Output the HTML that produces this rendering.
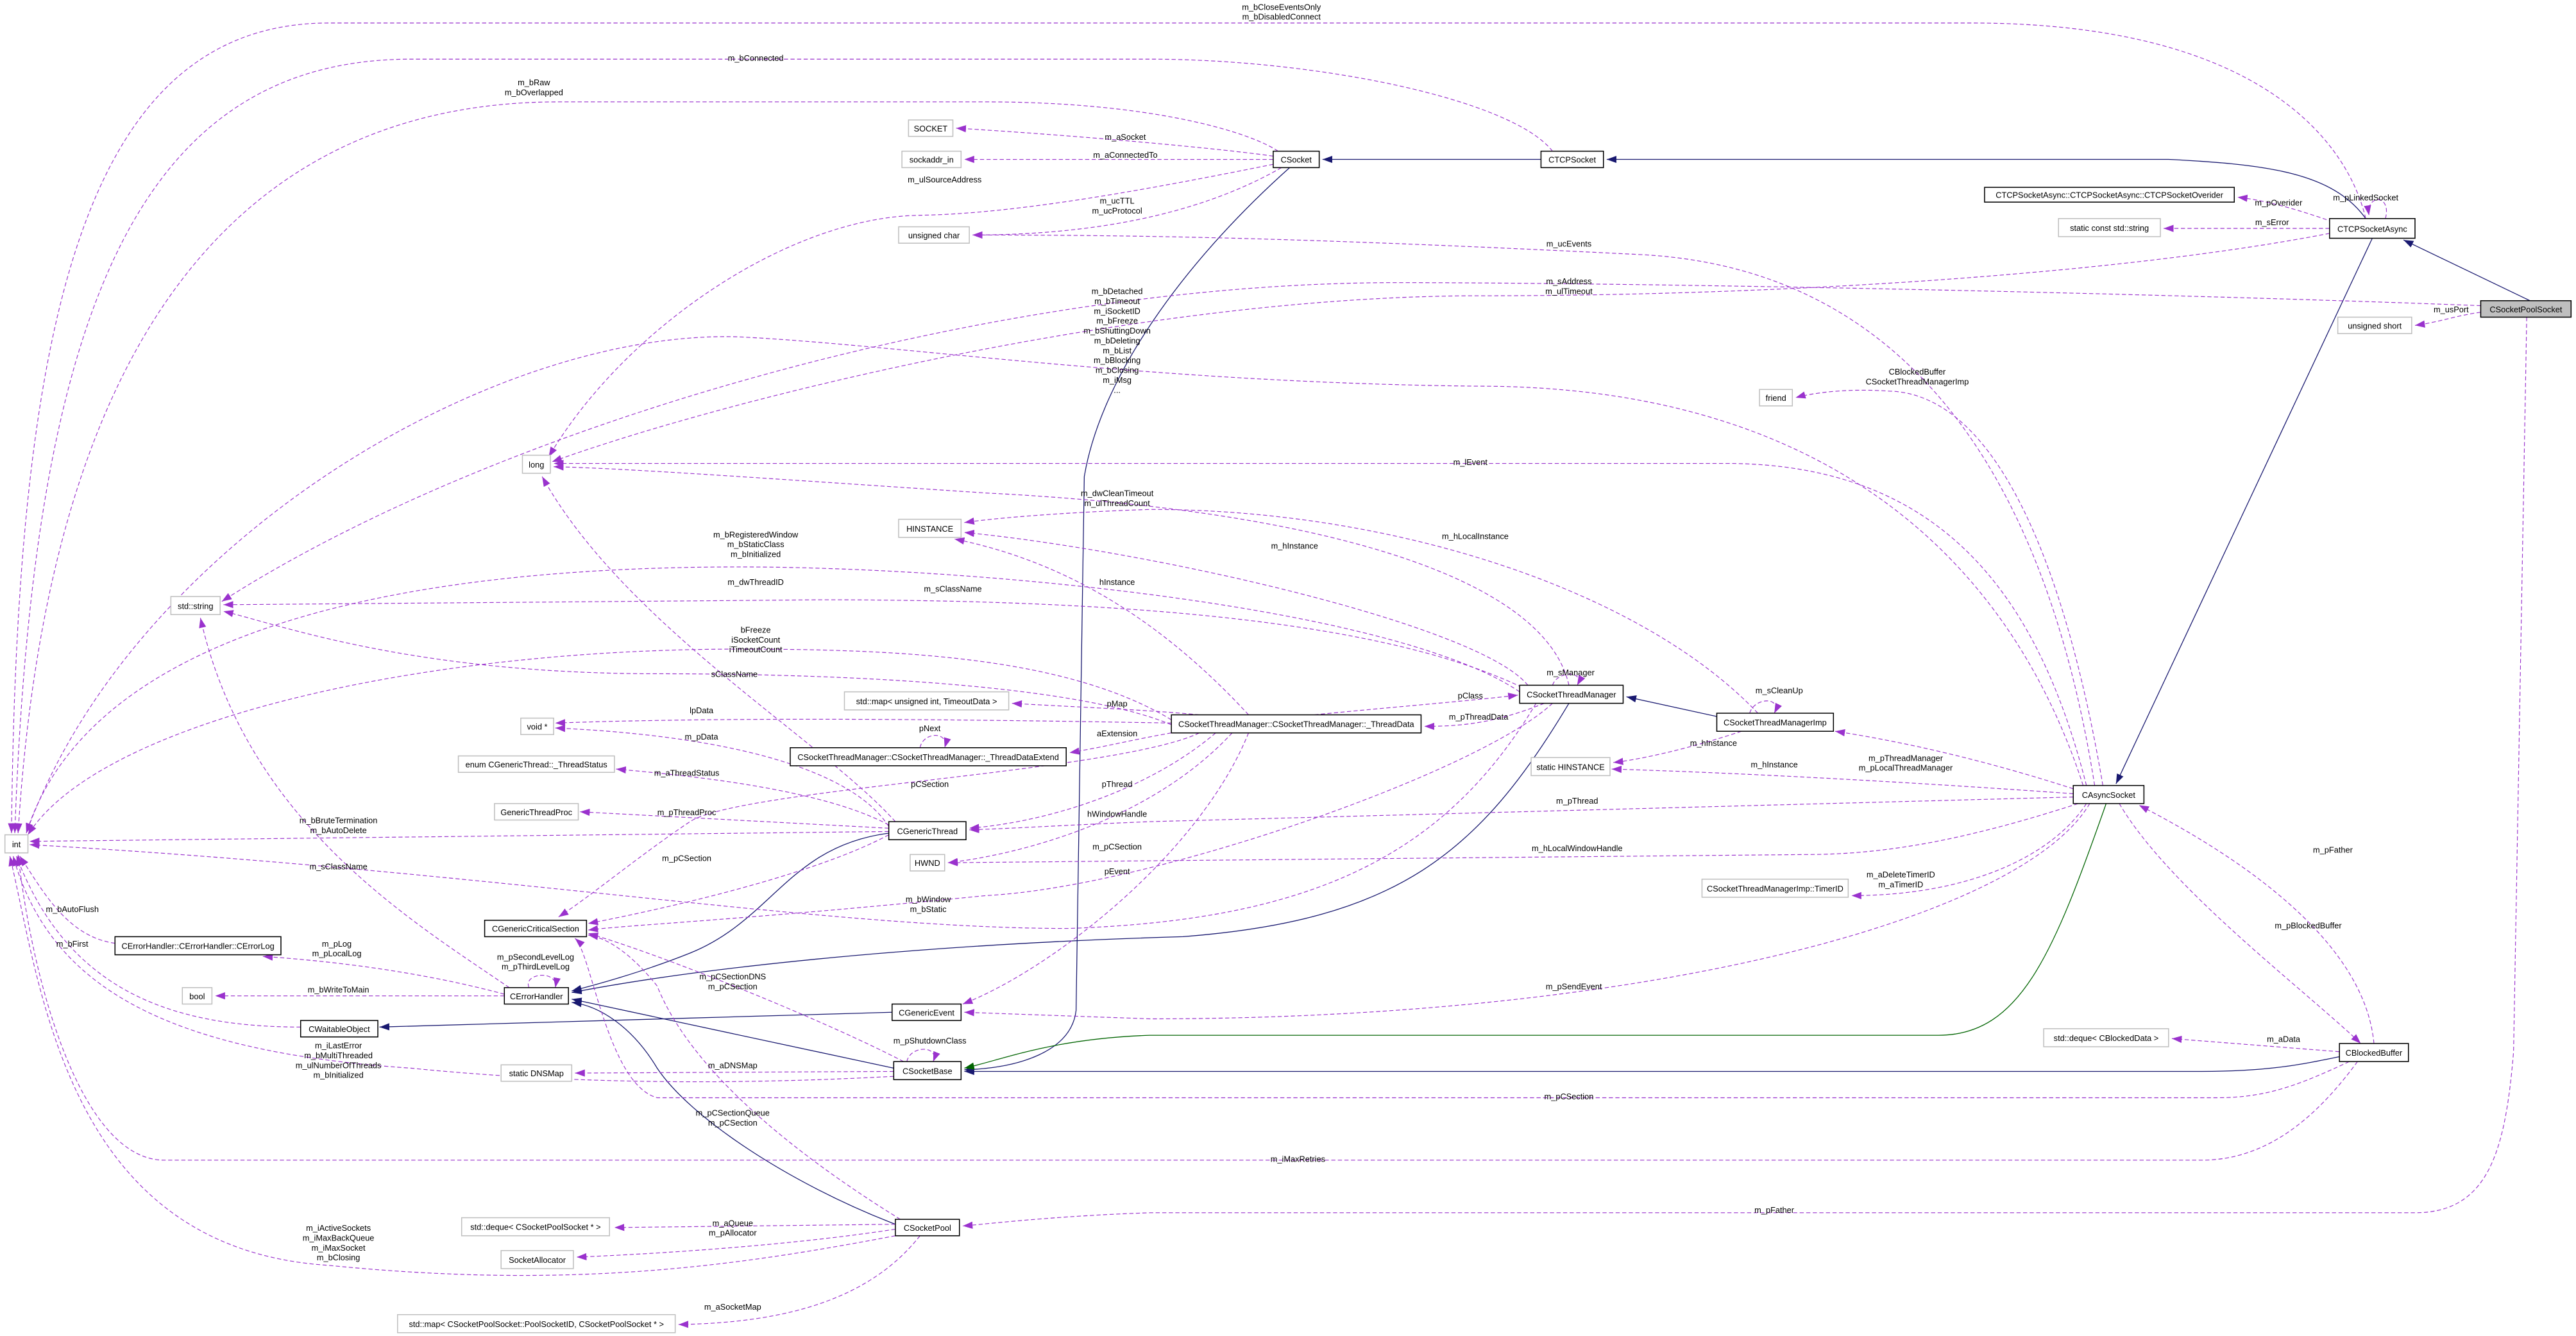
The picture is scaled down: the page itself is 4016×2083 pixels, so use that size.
<!DOCTYPE html>
<html><head><meta charset="utf-8"><style>
html,body{margin:0;padding:0;background:#fff;width:4016px;height:2083px;overflow:hidden}
svg{display:block}
text{font-family:"Liberation Sans",sans-serif;font-size:5px;fill:#000;text-anchor:middle}
.n rect{fill:#fff;stroke:#000;stroke-width:0.6}
.g rect{fill:#fff;stroke:#bfbfbf;stroke-width:0.6}
.p{fill:none;stroke:#9a32cd;stroke-width:0.45;stroke-dasharray:2.5,1.5}
.b{fill:none;stroke:#191970;stroke-width:0.5}
.e{fill:none;stroke:#006400;stroke-width:0.5}
</style></head><body>
<svg width="4016" height="2083" viewBox="0 0 1568 813" preserveAspectRatio="none" xmlns="http://www.w3.org/2000/svg">
<defs>
<marker id="ap" markerUnits="userSpaceOnUse" markerWidth="6" markerHeight="5" refX="6" refY="2.2" orient="auto"><path d="M0,0 L6,2.2 L0,4.4z" fill="#9a32cd"/></marker>
<marker id="ab" markerUnits="userSpaceOnUse" markerWidth="6" markerHeight="5" refX="6" refY="2.2" orient="auto"><path d="M0,0 L6,2.2 L0,4.4z" fill="#191970"/></marker>
<marker id="ae" markerUnits="userSpaceOnUse" markerWidth="6" markerHeight="5" refX="6" refY="2.2" orient="auto"><path d="M0,0 L6,2.2 L0,4.4z" fill="#006400"/></marker>
</defs>

<g marker-end="url(#ab)">
<path class="b" d="M938,97 L805,97"/>
<path class="b" d="M1440,133 C1420,105 1380,100 1320,97 L978,97"/>
<path class="b" d="M1540,183 L1463,146"/>
<path class="b" d="M1444,145 L1288,477"/>
<path class="b" d="M785,102 C720,160 670,230 660,290 L655,615 C652,640 620,650 587,651"/>
<path class="b" d="M1045,436 L990,424"/>
<path class="b" d="M955,428 C900,520 850,560 720,570 C550,575 420,590 348,604"/>
<path class="b" d="M541,507 C480,515 470,560 420,580 C390,592 360,600 348,603"/>
<path class="b" d="M543,616 L231,625"/>
<path class="b" d="M544,650 L348,608"/>
<path class="b" d="M545,745 C480,720 420,680 400,650 C385,625 365,612 348,610"/>
<path class="b" d="M1424,643 C1400,648 1380,652 1340,652 L587,652"/>
</g>
<path class="e" marker-end="url(#ae)" d="M1282,489 C1250,580 1230,630 1180,630 L700,630 C640,632 610,645 587,650"/>

<g marker-end="url(#ap)">
<path class="p" d="M775,95 C740,90 650,82 582,78"/>
<path class="p" d="M775,97 L587,97"/>
<path class="p" d="M775,100 C700,115 620,130 560,131 C480,132 380,200 334,278"/>
<path class="p" d="M780,102 C740,125 680,143 592,143"/>
<path class="p" d="M778,92 C760,80 700,62 600,62 L340,62 C150,62 30,200 11,507"/>
<path class="p" d="M945,92 C920,60 800,36 700,36 L250,36 C80,36 20,200 9,507"/>
<path class="p" d="M1440,133 C1430,90 1380,14 1200,14 L200,14 C50,14 10,200 7,507"/>
<path class="p" d="M1420,135 C1400,128 1380,122 1362,120"/>
<path class="p" d="M1418,139 L1317,139"/>
<path class="p" d="M1452,133 C1456,118 1440,118 1442,131"/>
<path class="p" d="M1418,142 C1300,165 1100,180 900,180 C700,180 450,240 336,281"/>
<path class="p" d="M1510,186 C1300,178 1000,172 850,172 C600,172 300,260 135,366"/>
<path class="p" d="M1510,190 C1495,192 1485,196 1470,198"/>
<path class="p" d="M1538,193 L1530,640 C1525,700 1515,738 1470,738 L700,738 C640,740 600,745 586,746"/>
<path class="p" d="M1275,478 C1250,320 1180,165 1000,155 C800,145 700,143 592,143"/>
<path class="p" d="M1270,478 C1240,360 1180,282 1050,282 L337,282"/>
<path class="p" d="M1280,478 C1260,360 1220,240 1150,238 C1120,236 1100,240 1093,242"/>
<path class="p" d="M1268,478 C1220,330 1100,235 900,235 C700,233 550,210 450,205 C300,200 80,330 16,507"/>
<path class="p" d="M1262,480 C1200,460 1150,450 1117,445"/>
<path class="p" d="M1262,483 C1150,475 1050,470 981,468"/>
<path class="p" d="M1262,485 L700,500 C650,502 620,504 590,505"/>
<path class="p" d="M1265,489 C1200,510 1150,520 1100,520 L577,525"/>
<path class="p" d="M1270,489 C1250,520 1200,545 1127,545"/>
<path class="p" d="M1272,489 C1230,560 1000,620 700,620 L587,616"/>
<path class="p" d="M1290,489 C1320,540 1400,600 1437,635"/>
<path class="p" d="M1445,635 C1440,580 1380,530 1302,490"/>
<path class="p" d="M1424,640 L1322,632"/>
<path class="p" d="M1430,646 C1400,660 1380,668 1350,668 L400,668 C370,660 360,580 350,571"/>
<path class="p" d="M1435,646 C1410,680 1380,706 1340,706 L100,706 C50,706 20,600 11,520"/>
<path class="p" d="M930,417 C900,380 700,335 587,324"/>
<path class="p" d="M760,435 C700,370 640,340 581,328"/>
<path class="p" d="M1070,434 C1000,360 850,310 700,310 C640,312 600,316 587,318"/>
<path class="p" d="M955,417 C940,350 800,310 600,300 C450,290 380,285 337,284"/>
<path class="p" d="M930,420 C850,380 700,365 500,365 L136,368"/>
<path class="p" d="M925,421 C850,370 600,345 450,345 C200,345 50,400 16,507"/>
<path class="p" d="M713,438 C650,400 550,395 450,395 C250,395 60,440 17,508"/>
<path class="p" d="M713,441 C650,415 500,410 400,410 C250,410 170,380 136,372"/>
<path class="p" d="M730,435 C700,432 650,430 616,428"/>
<path class="p" d="M800,435 C850,430 890,427 924,423"/>
<path class="p" d="M940,428 C910,440 890,442 867,442"/>
<path class="p" d="M713,446 C690,450 670,455 651,458"/>
<path class="p" d="M560,455 C562,445 578,445 575,455"/>
<path class="p" d="M713,440 C600,438 450,436 338,440"/>
<path class="p" d="M541,503 C520,470 450,448 338,443"/>
<path class="p" d="M541,502 C500,480 420,472 375,468"/>
<path class="p" d="M541,504 L353,494"/>
<path class="p" d="M541,506 L18,512"/>
<path class="p" d="M935,428 C880,520 800,560 650,565 C500,565 300,530 18,514"/>
<path class="p" d="M310,601 C250,560 150,500 122,376"/>
<path class="p" d="M545,500 C500,450 380,380 330,290"/>
<path class="p" d="M307,605 C270,595 220,586 160,582"/>
<path class="p" d="M307,606 L131,606"/>
<path class="p" d="M322,601 C318,592 340,590 338,601"/>
<path class="p" d="M70,574 C40,570 25,540 12,521"/>
<path class="p" d="M183,625 C100,625 40,600 10,521"/>
<path class="p" d="M544,655 C450,660 350,660 250,650 C100,640 30,600 8,521"/>
<path class="p" d="M545,752 C450,770 350,785 200,770 C40,760 25,600 6,521"/>
<path class="p" d="M541,508 C500,530 420,550 358,562"/>
<path class="p" d="M730,446 C680,470 450,480 420,500 C390,520 360,545 340,558"/>
<path class="p" d="M740,446 C700,480 640,500 590,504"/>
<path class="p" d="M750,446 C700,500 620,520 577,525"/>
<path class="p" d="M760,446 C730,520 640,590 586,611"/>
<path class="p" d="M945,428 C900,470 700,540 600,545 C450,560 380,563 358,566"/>
<path class="p" d="M945,417 C948,408 965,408 960,417"/>
<path class="p" d="M1065,434 C1068,424 1085,424 1080,434"/>
<path class="p" d="M1060,445 C1030,455 1000,462 982,464"/>
<path class="p" d="M550,646 C500,620 400,580 358,568"/>
<path class="p" d="M544,652 L350,653"/>
<path class="p" d="M552,646 C554,636 572,636 568,646"/>
<path class="p" d="M548,742 C480,700 420,650 400,600 C380,575 365,570 358,569"/>
<path class="p" d="M545,745 L374,747"/>
<path class="p" d="M545,748 C480,758 400,763 351,765"/>
<path class="p" d="M560,752 C530,790 480,805 413,806"/>
</g>

<text x="780" y="6">m_bCloseEventsOnly</text><text x="780" y="12">m_bDisabledConnect</text>
<text x="460" y="37">m_bConnected</text>
<text x="325" y="52">m_bRaw</text><text x="325" y="58">m_bOverlapped</text>
<text x="685" y="85">m_aSocket</text>
<text x="685" y="96">m_aConnectedTo</text>
<text x="575" y="111">m_ulSourceAddress</text>
<text x="680" y="124">m_ucTTL</text><text x="680" y="130">m_ucProtocol</text>
<text x="1387" y="125">m_pOverider</text>
<text x="1383" y="137">m_sError</text>
<text x="1440" y="122">m_pLinkedSocket</text>
<text x="955" y="150">m_ucEvents</text>
<text x="955" y="173">m_sAddress</text><text x="955" y="179">m_ulTimeout</text>
<text x="1492" y="190">m_usPort</text>
<text x="680" y="179">m_bDetached</text><text x="680" y="185">m_bTimeout</text><text x="680" y="191">m_iSocketID</text><text x="680" y="197">m_bFreeze</text><text x="680" y="203">m_bShuttingDown</text><text x="680" y="209">m_bDeleting</text><text x="680" y="215">m_bList</text><text x="680" y="221">m_bBlocking</text><text x="680" y="227">m_bClosing</text><text x="680" y="233">m_iMsg</text><text x="680" y="239">...</text>
<text x="1167" y="228">CBlockedBuffer</text><text x="1167" y="234">CSocketThreadManagerImp</text>
<text x="895" y="283">m_lEvent</text>
<text x="680" y="302">m_dwCleanTimeout</text><text x="680" y="308">m_ulThreadCount</text>
<text x="898" y="328">m_hLocalInstance</text>
<text x="788" y="334">m_hInstance</text>
<text x="460" y="327">m_bRegisteredWindow</text><text x="460" y="333">m_bStaticClass</text><text x="460" y="339">m_bInitialized</text>
<text x="680" y="356">hInstance</text>
<text x="460" y="356">m_dwThreadID</text>
<text x="580" y="360">m_sClassName</text>
<text x="460" y="385">bFreeze</text><text x="460" y="391">iSocketCount</text><text x="460" y="397">iTimeoutCount</text>
<text x="956" y="411">m_sManager</text>
<text x="447" y="412">sClassName</text>
<text x="1083" y="422">m_sCleanUp</text>
<text x="895" y="425">pClass</text>
<text x="680" y="430">pMap</text>
<text x="427" y="434">lpData</text>
<text x="900" y="438">m_pThreadData</text>
<text x="566" y="445">pNext</text>
<text x="680" y="448">aExtension</text>
<text x="427" y="450">m_pData</text>
<text x="1043" y="454">m_hInstance</text>
<text x="1160" y="463">m_pThreadManager</text><text x="1160" y="469">m_pLocalThreadManager</text>
<text x="1080" y="467">m_hInstance</text>
<text x="418" y="472">m_aThreadStatus</text>
<text x="566" y="479">pCSection</text>
<text x="680" y="479">pThread</text>
<text x="960" y="489">m_pThread</text>
<text x="418" y="496">m_pThreadProc</text>
<text x="680" y="497">hWindowHandle</text>
<text x="206" y="501">m_bBruteTermination</text><text x="206" y="507">m_bAutoDelete</text>
<text x="680" y="517">m_pCSection</text>
<text x="960" y="518">m_hLocalWindowHandle</text>
<text x="1420" y="519">m_pFather</text>
<text x="418" y="524">m_pCSection</text>
<text x="206" y="529">m_sClassName</text>
<text x="680" y="532">pEvent</text>
<text x="1157" y="534">m_aDeleteTimerID</text><text x="1157" y="540">m_aTimerID</text>
<text x="565" y="549">m_bWindow</text><text x="565" y="555">m_bStatic</text>
<text x="44" y="555">m_bAutoFlush</text>
<text x="1405" y="565">m_pBlockedBuffer</text>
<text x="44" y="576">m_bFirst</text>
<text x="205" y="576">m_pLog</text><text x="205" y="582">m_pLocalLog</text>
<text x="326" y="584">m_pSecondLevelLog</text><text x="326" y="590">m_pThirdLevelLog</text>
<text x="446" y="596">m_pCSectionDNS</text><text x="446" y="602">m_pCSection</text>
<text x="958" y="602">m_pSendEvent</text>
<text x="206" y="604">m_bWriteToMain</text>
<text x="1390" y="634">m_aData</text>
<text x="566" y="635">m_pShutdownClass</text>
<text x="206" y="638">m_iLastError</text><text x="206" y="644">m_bMultiThreaded</text><text x="206" y="650">m_ulNumberOfThreads</text><text x="206" y="656">m_bInitialized</text>
<text x="446" y="650">m_aDNSMap</text>
<text x="955" y="669">m_pCSection</text>
<text x="446" y="679">m_pCSectionQueue</text><text x="446" y="685">m_pCSection</text>
<text x="790" y="707">m_iMaxRetries</text>
<text x="1080" y="738">m_pFather</text>
<text x="446" y="746">m_aQueue</text>
<text x="206" y="749">m_iActiveSockets</text><text x="206" y="755">m_iMaxBackQueue</text><text x="206" y="761">m_iMaxSocket</text><text x="206" y="767">m_bClosing</text>
<text x="446" y="752">m_pAllocator</text>
<text x="446" y="797">m_aSocketMap</text>

<g class="g"><rect x="553" y="73" width="27" height="10"/><text x="566.5" y="80">SOCKET</text></g>
<g class="g"><rect x="549" y="92" width="36" height="10"/><text x="567" y="99">sockaddr_in</text></g>
<g class="n"><rect x="775" y="92" width="28" height="10"/><text x="789" y="99">CSocket</text></g>
<g class="n"><rect x="938" y="92" width="38" height="10"/><text x="957" y="99">CTCPSocket</text></g>
<g class="n"><rect x="1208" y="114" width="152" height="9"/><text x="1284" y="120.5">CTCPSocketAsync::CTCPSocketAsync::CTCPSocketOverider</text></g>
<g class="g"><rect x="1253" y="133" width="62" height="11"/><text x="1284" y="140.5">static const std::string</text></g>
<g class="n"><rect x="1418" y="133" width="52" height="12"/><text x="1444" y="141">CTCPSocketAsync</text></g>
<g class="n"><rect x="1510" y="183" width="55" height="10" style="fill:#bfbfbf"/><text x="1537.5" y="190">CSocketPoolSocket</text></g>
<g class="g"><rect x="1423" y="193" width="45" height="10"/><text x="1445.5" y="200">unsigned short</text></g>
<g class="g"><rect x="547" y="138" width="43" height="10"/><text x="568.5" y="145">unsigned char</text></g>
<g class="g"><rect x="1071" y="237" width="20" height="10"/><text x="1081" y="244">friend</text></g>
<g class="g"><rect x="318" y="277" width="17" height="11"/><text x="326.5" y="284.5">long</text></g>
<g class="g"><rect x="547" y="316" width="38" height="11"/><text x="566" y="323.5">HINSTANCE</text></g>
<g class="g"><rect x="104" y="363" width="30" height="11"/><text x="119" y="370.5">std::string</text></g>
<g class="g"><rect x="514" y="421" width="100" height="11"/><text x="564" y="428.5">std::map&lt; unsigned int, TimeoutData &gt;</text></g>
<g class="g"><rect x="317" y="437" width="20" height="10"/><text x="327" y="444">void *</text></g>
<g class="n"><rect x="925" y="417" width="63" height="11"/><text x="956.5" y="424.5">CSocketThreadManager</text></g>
<g class="n"><rect x="713" y="435" width="152" height="11"/><text x="789" y="442.5">CSocketThreadManager::CSocketThreadManager::_ThreadData</text></g>
<g class="n"><rect x="1045" y="434" width="71" height="11"/><text x="1080.5" y="441.5">CSocketThreadManagerImp</text></g>
<g class="n"><rect x="481" y="455" width="168" height="11"/><text x="565" y="462.5">CSocketThreadManager::CSocketThreadManager::_ThreadDataExtend</text></g>
<g class="g"><rect x="279" y="460" width="95" height="10"/><text x="326.5" y="467">enum CGenericThread::_ThreadStatus</text></g>
<g class="g"><rect x="932" y="461" width="48" height="11"/><text x="956" y="468.5">static HINSTANCE</text></g>
<g class="n"><rect x="1262" y="478" width="43" height="11"/><text x="1283.5" y="485.5">CAsyncSocket</text></g>
<g class="g"><rect x="301" y="489" width="51" height="10"/><text x="326.5" y="496">GenericThreadProc</text></g>
<g class="n"><rect x="541" y="500" width="47" height="11"/><text x="564.5" y="507.5">CGenericThread</text></g>
<g class="g"><rect x="554" y="520" width="21" height="10"/><text x="564.5" y="527">HWND</text></g>
<g class="g"><rect x="3" y="508" width="14" height="11"/><text x="10" y="515.5">int</text></g>
<g class="g"><rect x="1036" y="535" width="89" height="11"/><text x="1080.5" y="542.5">CSocketThreadManagerImp::TimerID</text></g>
<g class="n"><rect x="295" y="560" width="62" height="10"/><text x="326" y="567">CGenericCriticalSection</text></g>
<g class="n"><rect x="70" y="570" width="101" height="11"/><text x="120.5" y="577.5">CErrorHandler::CErrorHandler::CErrorLog</text></g>
<g class="n"><rect x="307" y="601" width="39" height="10"/><text x="326.5" y="608">CErrorHandler</text></g>
<g class="g"><rect x="111" y="601" width="18" height="10"/><text x="120" y="608">bool</text></g>
<g class="n"><rect x="543" y="611" width="42" height="10"/><text x="564" y="618">CGenericEvent</text></g>
<g class="n"><rect x="183" y="621" width="47" height="10"/><text x="206.5" y="628">CWaitableObject</text></g>
<g class="g"><rect x="1244" y="626" width="76" height="11"/><text x="1282" y="633.5">std::deque&lt; CBlockedData &gt;</text></g>
<g class="n"><rect x="1424" y="635" width="42" height="11"/><text x="1445" y="642.5">CBlockedBuffer</text></g>
<g class="g"><rect x="305" y="648" width="43" height="10"/><text x="326.5" y="655">static DNSMap</text></g>
<g class="n"><rect x="544" y="646" width="41" height="11"/><text x="564.5" y="653.5">CSocketBase</text></g>
<g class="g"><rect x="281" y="741" width="90" height="11"/><text x="326" y="748.5">std::deque&lt; CSocketPoolSocket * &gt;</text></g>
<g class="n"><rect x="545" y="742" width="39" height="10"/><text x="564.5" y="749">CSocketPool</text></g>
<g class="g"><rect x="305" y="761" width="44" height="11"/><text x="327" y="768.5">SocketAllocator</text></g>
<g class="g"><rect x="242" y="800" width="169" height="11"/><text x="326.5" y="807.5">std::map&lt; CSocketPoolSocket::PoolSocketID, CSocketPoolSocket * &gt;</text></g>
</svg>
</body></html>
